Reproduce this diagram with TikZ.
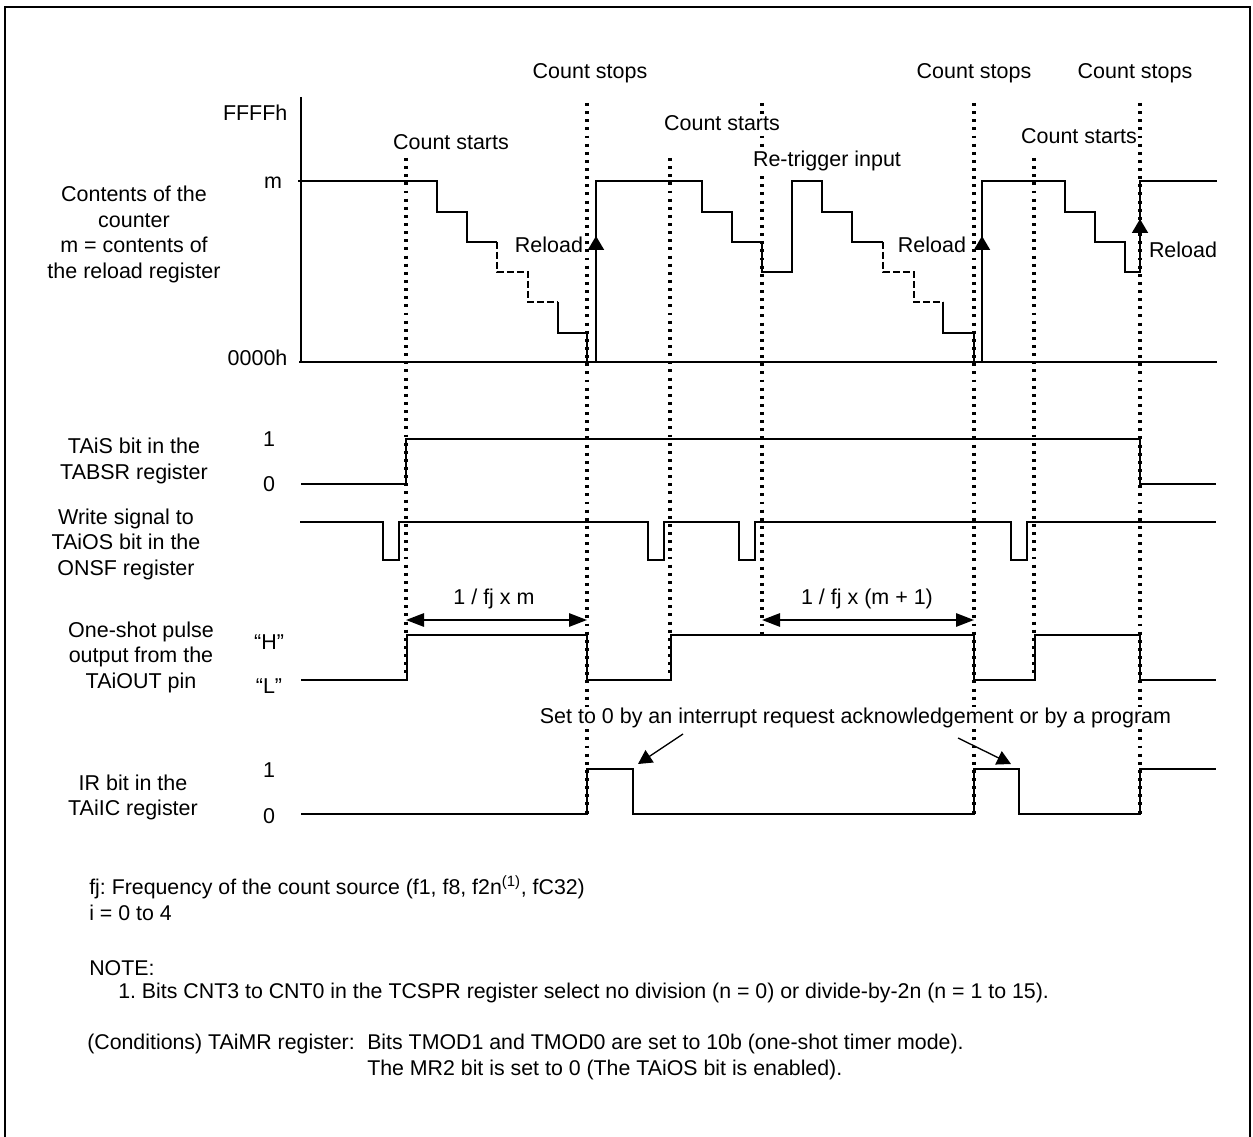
\documentclass[tikz,border=0pt]{standalone}
\usepackage{fontspec}
\setmainfont{Liberation Sans}
\usetikzlibrary{arrows.meta}
\frenchspacing

\begin{document}
\begin{tikzpicture}[
        x=0.75pt, y=-0.75pt,
        senal/.style={line width=1.4pt},
        trazos/.style={line width=1.4pt, dash pattern=on 5pt off 2.5pt},
        guia/.style={line width=2.4pt, dash pattern=on 2.2pt off 3.9pt},
        rotulo/.style={font=\fontsize{16.1}{19.1}\selectfont, inner sep=1pt, align=center},
        tapa/.style={rotulo, fill=white},
        nota/.style={font=\fontsize{16}{19.1}\selectfont, inner sep=0pt, anchor=west},
        recarga/.style={line width=1.4pt, -{Triangle[length=10.5pt, width=12pt]}},
        cota/.style={line width=1.4pt, {Triangle[length=13.5pt, width=10pt]}-{Triangle[length=13.5pt, width=10pt]}},
        flecha/.style={line width=1pt, -{Triangle[length=10.5pt, width=11pt]}}
    ]
        \useasboundingbox (0,0) rectangle (1253,1137);

        % marco
        \draw[line width=1.2pt] (5,1150) -- (5,7) -- (1250,7) -- (1250,1150);

        % lineas de referencia
        \foreach \x/\ya/\yb in {406/158/680, 587/103/814, 670/158/680, 762/103/635,
                                974/103/814, 1034/158/680, 1140/103/814}
            \draw[guia] (\x,\ya) -- (\x,\yb);

        % rotulos superiores
        \node[tapa] (para1) at (590,73) {Count stops};
        \node[tapa] (para2) at (974,73) {Count stops};
        \node[tapa] (para3) at (1135,73) {Count stops};
        \node[tapa] (inicio1) at (451,142) {Count starts};
        \node[tapa] (inicio2) at (722,123) {Count starts};
        \node[tapa] (inicio3) at (1079,136) {Count starts};
        \node[tapa] (redisparo) at (827,161) {Re-trigger input};
        \node[rotulo] (recarga1) at (549,245) {Reload};
        \node[rotulo] (recarga2) at (932,245) {Reload};
        \node[rotulo] (recarga3) at (1183,250) {Reload};

        % ejes del contador
        \node[rotulo, anchor=east] (ffff) at (289,113) {FFFFh};
        \node[rotulo] (mval) at (273,183) {m};
        \node[rotulo, anchor=east] (cero) at (289,358) {0000h};

        % nombres de las senales
        \node[rotulo] (contador) at (134,234.5) {Contents of the\\counter\\m = contents of\\the reload register};
        \node[rotulo] (tais) at (134,461) {TAiS bit in the\\TABSR register};
        \node[rotulo] (escritura) at (126,544) {Write signal to\\TAiOS bit in the\\ONSF register};
        \node[rotulo] (pulso) at (141,657) {One-shot pulse\\output from the\\TAiOUT pin};
        \node[rotulo] (ir) at (133,797.5) {IR bit in the\\TAiIC register};

        % niveles
        \node[rotulo] (tais1) at (269,439) {1};
        \node[rotulo] (tais0) at (269,484) {0};
        \node[rotulo] (alto) at (269,642) {“H”};
        \node[rotulo] (bajo) at (269,686) {“L”};
        \node[rotulo] (ir1) at (269,770) {1};
        \node[rotulo] (ir0) at (269,816) {0};

        % contador
        \draw[senal] (298,181) -- (301,181);
        \draw[senal] (301,97) -- (301,362);
        \draw[senal] (299,362) -- (1217,362);
        \draw[senal] (301,181) -| (437,212) -| (467,242) -- (497,242);
        \draw[trazos] (497,242) |- (528,272) |- (558,302);
        \draw[senal] (558,302) |- (587,333) -- (587,362);
        \draw[senal] (596,362) -- (596,181) -| (702,212) -| (732,242) -| (762,272) -| (792,181)
            -| (822,212) -| (852,242) -- (883,242);
        \draw[trazos] (883,242) |- (914,272) |- (943,302);
        \draw[senal] (943,302) |- (974,333) -- (974,362);
        \draw[senal] (982,362) -- (982,181) -| (1065,212) -| (1095,242) -| (1125,272) -| (1140,181)
            -- (1217,181);
        \draw[recarga] (596,362) -- (596,236);
        \draw[recarga] (982,362) -- (982,236);
        \draw[recarga] (1140,272) -- (1140,219);

        % TAiS, escritura, pulso, IR
        \draw[senal] (301,484) -| (406,439) -| (1140,484) -- (1216,484);
        \draw[senal] (300,522) -| (383,560) -| (399,522) -| (648,560) -| (664,522) -| (739,560)
            -| (755,522) -| (1011,560) -| (1027,522) -- (1216,522);
        \draw[senal] (301,680) -| (407,635) -| (587,680) -| (671,635) -| (974,680) -| (1035,635)
            -| (1140,680) -- (1216,680);
        \draw[senal] (301,814) -| (587,769) -| (633,814) -| (974,769) -| (1019,814) -| (1140,769)
            -- (1216,769);

        % cotas
        \draw[cota] (406,620) -- (587,620);
        \draw[cota] (762,620) -- (974,620);
        \node[rotulo] (tiempo1) at (494,599) {1 / fj x m};
        \node[rotulo] (tiempo2) at (867,599) {1 / fj x (m + 1)};

        % borrado de IR
        \node[tapa] (borrado) at (855.5,718) {Set to 0 by an interrupt request acknowledgement or by a program};
        \coordinate (b1) at (683,734);
        \coordinate (b1f) at (638,764);
        \coordinate (b2) at (958,738);
        \coordinate (b2f) at (1011,764);
        \draw[flecha] (b1) -- (b1f);
        \draw[flecha] (b2) -- (b2f);

        % notas
        \node[nota] (fj) at (89,887) {fj: Frequency of the count source (f1, f8, f2n\textsuperscript{(1)}, fC32)};
        \node[nota] (indice) at (89,913) {i = 0 to 4};
        \node[nota] (aviso) at (89,968) {NOTE:};
        \node[nota] (nota1) at (118,993) {1. Bits CNT3 to CNT0 in the TCSPR register select no division (n = 0) or divide-by-2n (n = 1 to 15).};
        \node[nota] (cond) at (87,1044) {(Conditions) TAiMR register:};
        \node[nota] (tmod) at (367,1044) {Bits TMOD1 and TMOD0 are set to 10b (one-shot timer mode).};
        \node[nota] (mr2) at (367,1070) {The MR2 bit is set to 0 (The TAiOS bit is enabled).};

    \end{tikzpicture}
\end{document}
